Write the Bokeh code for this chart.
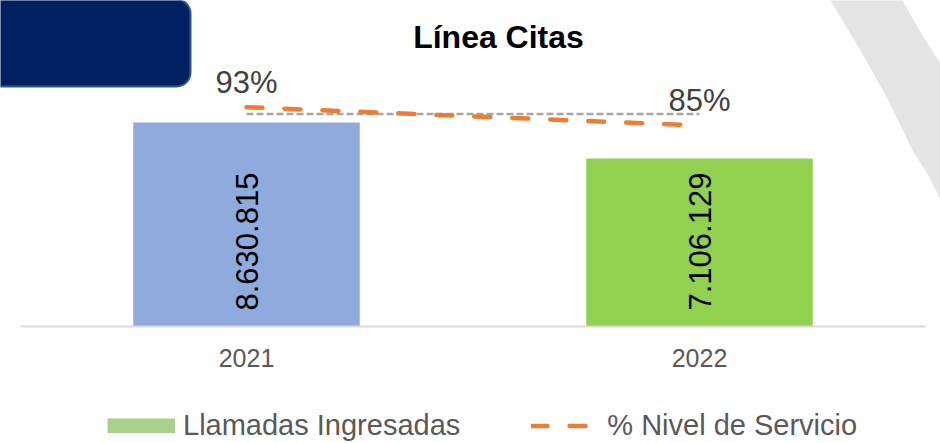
import math
import numpy as np
from bokeh.plotting import figure
from bokeh.layouts import column
from bokeh.models import (Range1d, FixedTicker, LinearAxis, Legend, LegendItem,
                          ColumnDataSource, Grid)
from bokeh.core.properties import value
from bokeh.embed import file_html
from bokeh.resources import INLINE

# ---------------- data ----------------
years = ["2021", "2022"]
llamadas = [8630815, 7106129]
nivel_servicio = [0.93, 0.85]
meta = [0.90, 0.90]
bar_colors = ["#8FAADC", "#92D050"]
title_text = "Línea Citas"
legend_labels = ["Llamadas Ingresadas", "% Nivel de Servicio"]

# ---------------- layout constants ----------------
W = 940
H1 = 400          # chart figure height
H2 = 43           # legend strip height
FRAME_H = 338
FONT = "Liberation Sans"

xpos = [i + 0.5 for i in range(len(years))]
src = ColumnDataSource(dict(
    x=xpos, year=years, llamadas=llamadas, color=bar_colors,
    lbl=[f"{v:,}".replace(",", ".") for v in llamadas],
    pct=nivel_servicio, meta=meta,
    pct_lbl=[f"{round(v * 100)}%" for v in nivel_servicio],
    zero=[0] * len(years),
))

p = figure(width=W, height=H1, output_backend="svg", toolbar_location=None,
           x_range=Range1d(-0.04305, 2.03201),
           y_range=Range1d(-507600, 13789800),
           min_border_left=0, min_border_right=0, min_border_top=0,
           min_border_bottom=H1 - FRAME_H,
           x_axis_location=None, y_axis_location=None)
p.outline_line_color = None
p.background_fill_color = "white"
p.border_fill_color = "white"
p.extra_y_ranges = {"pct": Range1d(-0.0800, 1.3960),
                    "py": Range1d(FRAME_H, 0)}
p.extra_x_ranges = {"px": Range1d(0, W)}
for g in p.select(type=Grid):
    g.visible = False

# decorative background shapes (pixel coords)
band_x = [826, 830, 860, 888, 912, 928, 938, 950, 950, 922, 902, 897]
band_y = [-8, 0, 50, 100, 150, 175, 195, 215, 78, 35, 0, -8]
p.patch(band_x, band_y, x_range_name="px", y_range_name="py",
        fill_color="#E4E4E4", line_color=None)
p.quad(left=[-40], right=[190], top=[-1], bottom=[86],
       x_range_name="px", y_range_name="py",
       fill_color="#002060", line_color="#2F5597", line_width=2,
       border_radius=14)

# title
p.text(x=[498], y=[36], text=[title_text], x_range_name="px", y_range_name="py",
       text_font=value(FONT), text_font_size="32px", text_font_style="bold",
       text_align="center", text_baseline="alphabetic", text_color="black")

# bars
bars = p.vbar(x="x", top="llamadas", width=0.5, source=src,
              fill_color="color", line_color=None)
p.text(x="x", y="zero", text="lbl", source=src, angle=math.pi / 2,
       y_offset=-16, text_align="left", text_baseline="middle",
       text_font=value(FONT), text_font_size="31px", text_color="black")

# baseline
p.segment(x0=[20], x1=[925], y0=[0], y1=[0], x_range_name="px",
          line_color="#D9D9D9", line_width=2)

# target and service level lines
p.line(x="x", y="meta", source=src, y_range_name="pct",
       line_color="#A6A6A6", line_width=2.5, line_dash="7 3")
line_r = p.line(x="x", y="pct", source=src, y_range_name="pct",
                line_color="#ED7D31", line_width=4.5, line_dash="16 22",
                line_cap="round")
p.text(x="x", y="pct", text="pct_lbl", source=src, y_range_name="pct",
       y_offset=-25, text_align="center", text_baseline="alphabetic",
       text_font=value(FONT), text_font_size="31px", text_color="#404040")

# x axis
xaxis = LinearAxis(ticker=FixedTicker(ticks=xpos),
                   major_label_overrides={x: y for x, y in zip(xpos, years)})
xaxis.axis_line_color = None
xaxis.major_tick_line_color = None
xaxis.minor_tick_line_color = None
xaxis.major_label_standoff = 4
xaxis.major_label_text_font = FONT
xaxis.major_label_text_font_size = "25px"
xaxis.major_label_text_color = "#595959"
p.add_layout(xaxis, "below")

# ---------------- legend strip ----------------
p2 = figure(width=W, height=H2, output_backend="svg", toolbar_location=None,
            x_range=Range1d(0, W), y_range=Range1d(H2, 0),
            min_border=0, x_axis_location=None, y_axis_location=None)
p2.outline_line_color = None
for g in p2.select(type=Grid):
    g.visible = False
nan = np.array([np.nan])
sw = p2.line(x=nan, y=nan, line_color="#A9D18E", line_width=15,
             line_cap="butt")
ln = p2.line(x=nan, y=nan, line_color="#ED7D31", line_width=4.5,
             line_dash="16 22", line_cap="round")
legend = Legend(items=[LegendItem(label=legend_labels[0], renderers=[sw]),
                       LegendItem(label=legend_labels[1], renderers=[ln])],
                orientation="horizontal", location=(107, 1),
                glyph_width=68, glyph_height=15, label_standoff=8, spacing=71,
                padding=0, margin=0, border_line_color=None,
                background_fill_alpha=0, label_height=34,
                label_text_font=FONT, label_text_font_size="29px",
                label_text_color="#595959")
p2.add_layout(legend)

layout = column(p, p2, spacing=0)
open("out.html", "w").write(file_html(layout, INLINE))
